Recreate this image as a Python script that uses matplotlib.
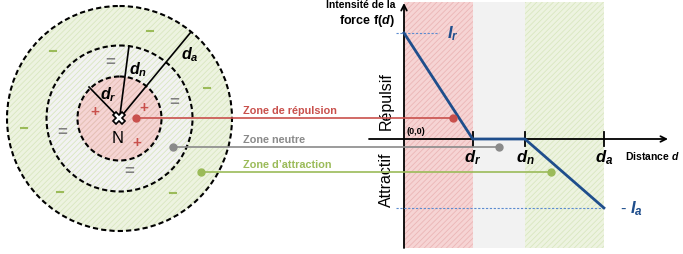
import matplotlib
matplotlib.use("Agg")
import matplotlib.pyplot as plt
from matplotlib.patches import Circle, Rectangle

plt.rcParams['font.family'] = ['Liberation Sans', 'DejaVu Sans']
plt.rcParams['mathtext.fontset'] = 'custom'
plt.rcParams['mathtext.it'] = 'Liberation Sans:italic:bold'
plt.rcParams['mathtext.rm'] = 'Liberation Sans:bold'
plt.rcParams['mathtext.bf'] = 'Liberation Sans:bold'
plt.rcParams['hatch.linewidth'] = 0.6

# ---------------- data ----------------
zone_names = ["Zone de répulsion", "Zone neutre", "Zone d\u2019attraction"]
zone_bounds = [0.0, 1.0, 1.76, 2.91]          # 0, d_r, d_n, d_a
tick_labels = [r"$d_r$", r"$d_n$", r"$d_a$"]
curve_d = [0.0, 1.0, 1.76, 2.91]
curve_f = [1.0, 0.0, 0.0, -0.65]                # I_r ... -I_a
I_r = 1.0
I_a = 0.65
circle_radii = [42, 73, 112.5]                  # inner (repulsion), neutral, attraction
connector_d = [0.71, 1.38, 2.14]
connector_f = [0.20, -0.075, -0.31]

# ---------------- style ----------------
red, gray, green = "#c9504c", "#8a8a8a", "#9bbb59"
zone_face = ["#f6d4d4", "#f2f2f2", "#edf3e0"]
zone_hatch = ["#ebb6b6", None, "#d9e7c0"]
blue = "#1f4e8c"
lblue = "#5b8bd0"

W, H = 683, 255
fig = plt.figure(figsize=(W / 100, H / 100), dpi=100)

# chart axes (data coords)
ax2 = fig.add_axes([360 / W, 0, 323 / W, 1])
x0px, y0px, sx, sy = 404, 140, 68.7, 106.0
ax2.set_xlim((360 - x0px) / sx, (683 - x0px) / sx)
ax2.set_ylim((y0px - 255) / sy, (y0px - 0) / sy)
ax2.axis('off')

# overlay axes in pixel coords
ax0 = fig.add_axes([0, 0, 1, 1], zorder=3)
ax0.set_xlim(0, W)
ax0.set_ylim(H, 0)
ax0.axis('off')
ax0.patch.set_alpha(0)

f_top, f_bot = (y0px - 3) / sy, (y0px - 249) / sy
for i in range(3):
    x_a, x_b = zone_bounds[i], zone_bounds[i + 1]
    ax2.add_patch(Rectangle((x_a, f_bot), x_b - x_a, f_top - f_bot,
                            facecolor=zone_face[i], edgecolor='none', zorder=0))
    if zone_hatch[i]:
        ax2.add_patch(Rectangle((x_a, f_bot), x_b - x_a, f_top - f_bot,
                                facecolor='none', edgecolor=zone_hatch[i],
                                hatch='//////', linewidth=0, zorder=0.5))

# axes lines
ax2.annotate('', xy=(0, (y0px - 4) / sy), xytext=(0, f_bot),
             arrowprops=dict(arrowstyle='->', lw=1.3, color='black',
                             shrinkA=0, shrinkB=0, mutation_scale=10), zorder=2)
ax2.annotate('', xy=((668 - x0px) / sx, 0), xytext=((369 - x0px) / sx, 0),
             arrowprops=dict(arrowstyle='->', lw=1.3, color='black',
                             shrinkA=0, shrinkB=0, mutation_scale=10), zorder=2)
for xb, lab in zip(zone_bounds[1:], tick_labels):
    ax2.plot([xb, xb], [-0.066, 0.066], color='black', lw=1.3, zorder=2)
    ax2.text(xb, -0.165, lab, ha='center', va='center', fontsize=12, color='black')

# dashed intensity guides
ax2.plot([-0.12, 0.51], [I_r, I_r], ls=(0, (2, 1.5)), lw=0.8, color=lblue, zorder=2)
ax2.plot([-0.12, curve_d[-1]], [-I_a, -I_a], ls=(0, (2, 1.5)), lw=0.8, color=lblue, zorder=2)
ax2.text(0.62, I_r, r"$I_r$", color=blue, fontsize=12, ha='left', va='center')
ax2.text(3.14, -I_a, r"- $I_a$", color=blue, fontsize=12, ha='left', va='center')

# force curve
ax2.plot(curve_d, curve_f, color=blue, lw=2, zorder=3, solid_joinstyle='miter')

# chart texts
ax2.text((395 - x0px) / sx, (y0px - 8) / sy, "Intensité de la", ha='right',
         va='baseline', fontsize=7.5, fontweight='bold')
ax2.text((395 - x0px) / sx, (y0px - 24) / sy, r"force f($d$)", ha='right',
         va='baseline', fontsize=9, fontweight='bold')
ax2.text((386 - x0px) / sx, (y0px - 101) / sy, "Répulsif", rotation=90,
         ha='center', va='center', fontsize=11.5)
ax2.text((386 - x0px) / sx, (y0px - 180) / sy, "Attractif", rotation=90,
         ha='center', va='center', fontsize=11.5)
ax2.text(0.03, 0.04, "(0,0)", ha='left', va='bottom', fontsize=6.5, fontweight='bold')
ax2.text((625 - x0px) / sx, -0.15, r"Distance $d$", ha='left', va='center',
         fontsize=7.5, fontweight='bold')

# ---------------- circle diagram ----------------
cx, cy = 119.5, 119.5
for r, fc, hc in zip(circle_radii[::-1], zone_face[::-1], zone_hatch[::-1]):
    ax0.add_patch(Circle((cx, cy), r, facecolor=fc, edgecolor='none', zorder=1))
    if hc:
        ax0.add_patch(Circle((cx, cy), r, facecolor='none', edgecolor=hc,
                             hatch='//////', linewidth=0, zorder=1.2))
    ax0.add_patch(Circle((cx, cy), r, facecolor='none', edgecolor='black',
                         linewidth=1.5, linestyle=(0, (2.5, 1.5)), zorder=1.5))

# radius lines
ends = [(89, 88), (129, 47), (191, 33)]
for ex, ey in ends:
    ax0.plot([cx, ex], [cy, ey], color='black', lw=1.2, zorder=2)
ax0.text(108, 95, r"$d_r$", fontsize=11.5, ha='center', va='center', zorder=4)
ax0.text(138, 70, r"$d_n$", fontsize=11.5, ha='center', va='center', zorder=4)
ax0.text(190, 55, r"$d_a$", fontsize=11.5, ha='center', va='center', zorder=4)
ax0.plot(cx - 1, cy - 1, marker='X', markersize=9, markerfacecolor='white',
         markeredgecolor='black', markeredgewidth=1.2, zorder=5)
ax0.text(118, 139, "N", fontsize=12, ha='center', va='center', zorder=4)

for (x, y) in [(95, 112), (144, 108), (137, 143)]:
    ax0.text(x, y, "+", color=red, fontsize=11, fontweight='bold', ha='center', va='center')
for (x, y) in [(110, 62), (174, 103), (62, 133), (129, 172)]:
    ax0.text(x, y, "=", color="#7f7f7f", fontsize=12, fontweight='bold', ha='center', va='center')
for (x, y) in [(53, 52), (150, 32), (207, 89), (24, 129), (60, 193), (173, 194)]:
    ax0.plot([x - 3, x + 3], [y, y], color=green, lw=1.5, zorder=2)

# connectors
start_x = [136, 173, 201]
colors = [red, gray, green]
for name, sxp, d, f, c in zip(zone_names, start_x, connector_d, connector_f, colors):
    disp = ax2.transData.transform((d, f))
    ex, ey = ax0.transData.inverted().transform(disp)
    ax0.plot([sxp, ex], [ey, ey], color=c, lw=1.2, zorder=3)
    ax0.plot([sxp, ex], [ey, ey], 'o', color=c, markersize=5, zorder=3)
    ax0.text(243, ey - 3, name, color=c, fontsize=7.8, fontweight='bold',
             ha='left', va='bottom', zorder=4)

fig.savefig("out.png", dpi=100)
